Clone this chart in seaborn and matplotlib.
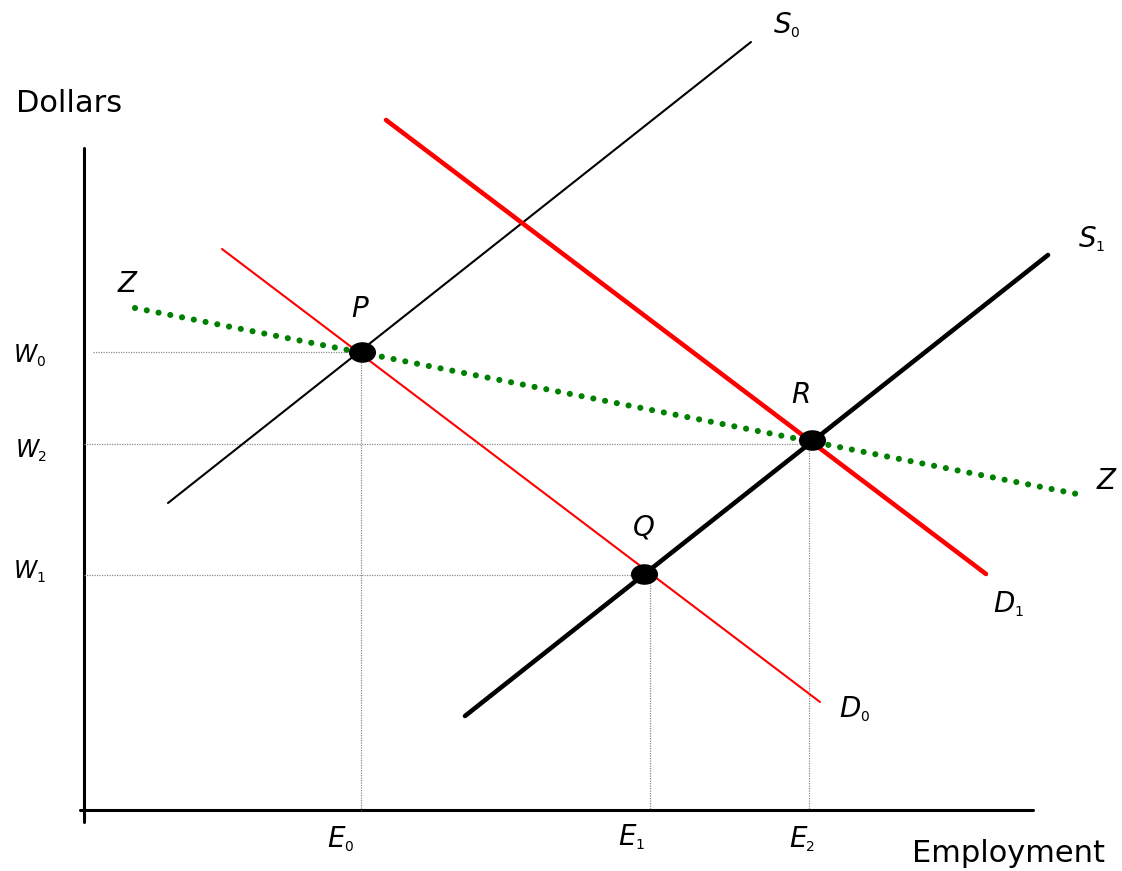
import numpy as np
import pandas as pd
import seaborn as sns
import matplotlib.pyplot as plt
from matplotlib.path import Path
from matplotlib.transforms import Affine2D

sns.set_theme(style='white')
plt.rcParams['font.family'] = ['DejaVu Sans']
plt.rcParams['text.color'] = 'black'

# curve end points (x to the right, y downwards, in px)
s0_x = [168, 751]
s0_y = [503, 42]
s1_x = [465, 1048]
s1_y = [716, 255]
d0_x = [222, 820]
d0_y = [249, 702]
d1_x = [386, 986]
d1_y = [120, 574]
z_x = [135, 1082]
z_y = [308, 495]

# equilibria P, Q, R
eq_names = ['P', 'Q', 'R']
eq_x = [362, 644, 812]
eq_y = [352, 574, 440]

# wage levels W0, W2, W1 and employment levels E0, E1, E2
wage_y = [352, 444, 575]
wage_x_end = [362, 812, 644]
emp_x = [361, 650, 809]
emp_y_top = [352, 575, 440]

axis_origin = (84, 810)
axis_top = 148
axis_right = 1033

fig = plt.figure(figsize=(11.22, 8.71), dpi=100)
ax = fig.add_axes([0, 0, 1, 1])
ax.set_xlim(0, 1122)
ax.set_ylim(871, 0)
ax.axis('off')

# axes
sns.lineplot(x=[axis_origin[0], axis_origin[0]], y=[axis_top, 822], ax=ax,
             color='black', lw=2.2, sort=False, estimator=None)
sns.lineplot(x=[80, axis_right], y=[axis_origin[1], axis_origin[1]], ax=ax,
             color='black', lw=2.2, sort=False, estimator=None)

# guide lines
wage_x_start = [93, axis_origin[0], axis_origin[0]]
for x0, x1, y in zip(wage_x_start, wage_x_end, wage_y):
    ax.plot([x0, x1], [y, y], color='#8c8c8c', lw=0.9, ls=(0, (1, 1)))
for x, y0 in zip(emp_x, emp_y_top):
    ax.plot([x, x], [y0, axis_origin[1]], color='#8c8c8c', lw=0.9, ls=(0, (1, 1)))

# supply and demand curves
sns.lineplot(x=s0_x, y=s0_y, ax=ax, color='black', lw=1.5, sort=False, estimator=None)
sns.lineplot(x=s1_x, y=s1_y, ax=ax, color='black', lw=3.3, sort=False, estimator=None)
sns.lineplot(x=d0_x, y=d0_y, ax=ax, color='#ff0000', lw=1.5, sort=False, estimator=None)
sns.lineplot(x=d1_x, y=d1_y, ax=ax, color='#ff0000', lw=3.3, sort=False, estimator=None)
ax.plot(z_x, z_y, color='#008000', lw=4.4, ls=(0, (0.01, 1.95)),
        dash_capstyle='round')

# equilibrium dots (flattened ellipses)
ell = Path.unit_circle().transformed(Affine2D().scale(1.0, 0.76))
sns.scatterplot(x=eq_x, y=eq_y, ax=ax, marker=ell, s=380, color='black',
                edgecolor='black', linewidth=0, zorder=5)


def label(x, y, letter, sub=None, size=20, sub_size=10, dy=4):
    ax.text(x, y, letter, fontsize=size, style='italic', ha='right', va='baseline')
    if sub is not None:
        ax.text(x - 1, y + dy, sub, fontsize=sub_size, ha='left', va='baseline')


label(37, 362, 'W', '0', size=17)
label(39, 457, 'W', '2', size=17)
label(37, 578, 'W', '1', size=17)
label(345, 847, 'E', '0')
label(636, 845, 'E', '1')
label(807, 847, 'E', '2')
label(791, 33, 'S', '0')
label(1096, 247, 'S', '1')
label(1015, 612, 'D', '1')
label(861, 717, 'D', '0')
label(368, 317, 'P')
label(655, 535, 'Q')
label(811, 403, 'R')
label(137, 292, 'Z')
label(1116, 489, 'Z')

ax.text(16, 112, 'Dollars', fontsize=22, ha='left', va='baseline')
ax.text(1105, 862, 'Employment', fontsize=22, ha='right', va='baseline')

fig.savefig('out.png', dpi=100)
